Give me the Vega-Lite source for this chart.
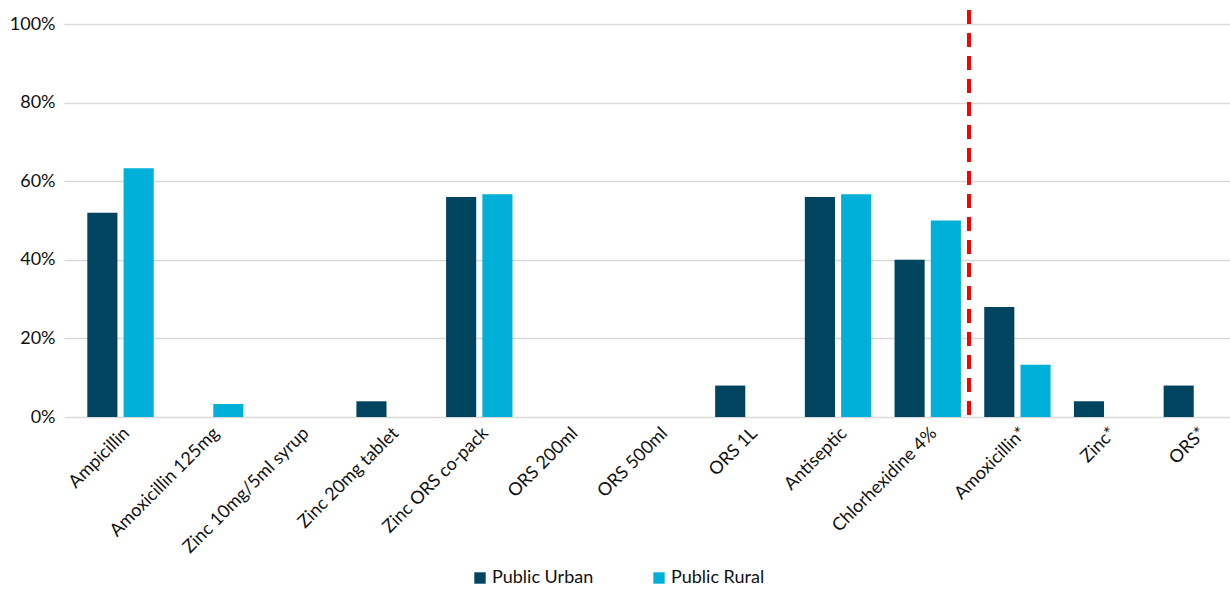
{
  "$schema": "https://vega.github.io/schema/vega-lite/v6.json",
  "width": 1166,
  "height": 393,
  "autosize": {"type": "none"},
  "padding": {"left": 64, "top": 24, "right": 0, "bottom": 172},
  "config": {"font": "Lato", "view": {"stroke": null}},
  "data": {
    "values": [
      {"item": "Ampicillin", "series": "Public Urban", "value": 0.52},
      {"item": "Ampicillin", "series": "Public Rural", "value": 0.633},
      {"item": "Amoxicillin 125mg", "series": "Public Urban", "value": 0},
      {"item": "Amoxicillin 125mg", "series": "Public Rural", "value": 0.033},
      {"item": "Zinc 10mg/5ml syrup", "series": "Public Urban", "value": 0},
      {"item": "Zinc 10mg/5ml syrup", "series": "Public Rural", "value": 0},
      {"item": "Zinc 20mg tablet", "series": "Public Urban", "value": 0.04},
      {"item": "Zinc 20mg tablet", "series": "Public Rural", "value": 0},
      {"item": "Zinc ORS co-pack", "series": "Public Urban", "value": 0.56},
      {"item": "Zinc ORS co-pack", "series": "Public Rural", "value": 0.567},
      {"item": "ORS 200ml", "series": "Public Urban", "value": 0},
      {"item": "ORS 200ml", "series": "Public Rural", "value": 0},
      {"item": "ORS 500ml", "series": "Public Urban", "value": 0},
      {"item": "ORS 500ml", "series": "Public Rural", "value": 0},
      {"item": "ORS 1L", "series": "Public Urban", "value": 0.08},
      {"item": "ORS 1L", "series": "Public Rural", "value": 0},
      {"item": "Antiseptic", "series": "Public Urban", "value": 0.56},
      {"item": "Antiseptic", "series": "Public Rural", "value": 0.567},
      {"item": "Chlorhexidine 4%", "series": "Public Urban", "value": 0.40},
      {"item": "Chlorhexidine 4%", "series": "Public Rural", "value": 0.50},
      {"item": "Amoxicillin*", "series": "Public Urban", "value": 0.28},
      {"item": "Amoxicillin*", "series": "Public Rural", "value": 0.133},
      {"item": "Zinc*", "series": "Public Urban", "value": 0.04},
      {"item": "Zinc*", "series": "Public Rural", "value": 0},
      {"item": "ORS*", "series": "Public Urban", "value": 0.08},
      {"item": "ORS*", "series": "Public Rural", "value": 0}
    ]
  },
  "layer": [
    {
      "mark": {"type": "bar"},
      "encoding": {
        "x": {
          "field": "item",
          "type": "nominal",
          "scale": {
            "domain": ["Ampicillin", "Amoxicillin 125mg", "Zinc 10mg/5ml syrup", "Zinc 20mg tablet", "Zinc ORS co-pack", "ORS 200ml", "ORS 500ml", "ORS 1L", "Antiseptic", "Chlorhexidine 4%", "Amoxicillin*", "Zinc*", "ORS*"],
            "paddingInner": 0.26,
            "paddingOuter": 0.13,
            "align": 1
          },
          "axis": {"labelAngle": -45, "title": null, "domain": false, "ticks": false, "labelFontSize": 18, "labelPadding": 7, "labelColor": "#111"}
        },
        "xOffset": {
          "field": "series",
          "type": "nominal",
          "scale": {"domain": ["Public Urban", "Public Rural"], "paddingInner": 0.17}
        },
        "y": {
          "field": "value",
          "type": "quantitative",
          "scale": {"domain": [0, 1]},
          "axis": {"format": ".0%", "values": [0, 0.2, 0.4, 0.6, 0.8, 1], "title": null, "domain": false, "ticks": false, "gridColor": "#d9d9d9", "gridWidth": 1.5, "labelFontSize": 18, "labelPadding": 9, "labelColor": "#111"}
        },
        "color": {
          "field": "series",
          "type": "nominal",
          "scale": {"domain": ["Public Urban", "Public Rural"], "range": ["#00445f", "#00b0d8"]},
          "legend": {"orient": "none", "legendX": 407, "legendY": 545, "direction": "horizontal", "title": null, "symbolType": "square", "symbolSize": 130, "symbolStrokeWidth": 0, "labelFontSize": 18, "labelColor": "#111", "columnPadding": 56, "labelOffset": 3}
        }
      }
    },
    {
      "mark": {"type": "rule", "color": "#ff0000", "strokeWidth": 3, "strokeDash": [13, 10], "clip": false},
      "encoding": {
        "x": {"datum": "Amoxicillin*", "bandPosition": -0.23},
        "y": {"datum": 1.035},
        "y2": {"datum": 0}
      }
    }
  ]
}
